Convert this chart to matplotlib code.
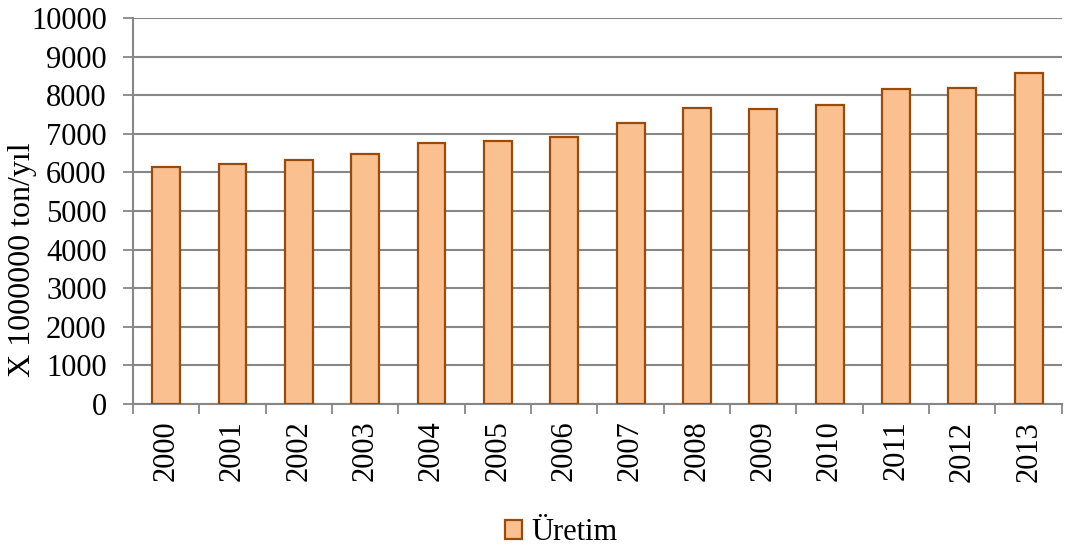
import matplotlib
matplotlib.use("Agg")
import matplotlib.pyplot as plt
import numpy as np

years = ["2000", "2001", "2002", "2003", "2004", "2005", "2006",
         "2007", "2008", "2009", "2010", "2011", "2012", "2013"]
production = [6145, 6225, 6320, 6465, 6775, 6810, 6930,
              7285, 7675, 7640, 7735, 8155, 8180, 8570]
yticks = [0, 1000, 2000, 3000, 4000, 5000, 6000, 7000, 8000, 9000, 10000]

plt.rcParams['font.family'] = ['Liberation Serif', 'DejaVu Serif']

fig = plt.figure(figsize=(10.65, 5.47), dpi=100)
ax = fig.add_axes([0.1249, 0.2614, 0.8721, 0.7056])

x = np.arange(len(years))
grid_c = "#878787"
ax.bar(x, production, width=0.42, color="#FAC090", edgecolor="#9C4A0A",
       linewidth=1.6, label="Üretim", zorder=3)

ax.set_xlim(-0.5, len(years) - 0.5)
ax.set_ylim(0, 10000)
ax.set_yticks(yticks)
ax.set_yticklabels([str(v) for v in yticks], fontsize=22)
ax.yaxis.grid(True, color=grid_c, linewidth=1.5, zorder=0)
ax.set_axisbelow(True)

ax.set_xticks(x)
ax.set_xticklabels(years, rotation=90, fontsize=22)
ax.set_xticks(np.arange(-0.5, len(years), 1.0), minor=True)
ax.tick_params(axis='x', which='major', length=0, pad=12)
ax.tick_params(axis='x', which='minor', length=7, color=grid_c, width=1.3)
ax.tick_params(axis='y', length=7, color=grid_c, width=1.3, pad=12)

for s in ['top', 'right']:
    ax.spines[s].set_visible(False)
for s in ['left', 'bottom']:
    ax.spines[s].set_color(grid_c)
    ax.spines[s].set_linewidth(1.5)

ax.set_ylabel("X 1000000 ton/yıl", fontsize=23)
ax.yaxis.set_label_coords(-0.103, 0.373)

fig.legend(loc='center', bbox_to_anchor=(0.527, 0.026), frameon=False,
           fontsize=22, handlelength=0.55, handleheight=0.55, handletextpad=0.3,
           borderaxespad=0, borderpad=0)

fig.savefig("out.png", dpi=100)
